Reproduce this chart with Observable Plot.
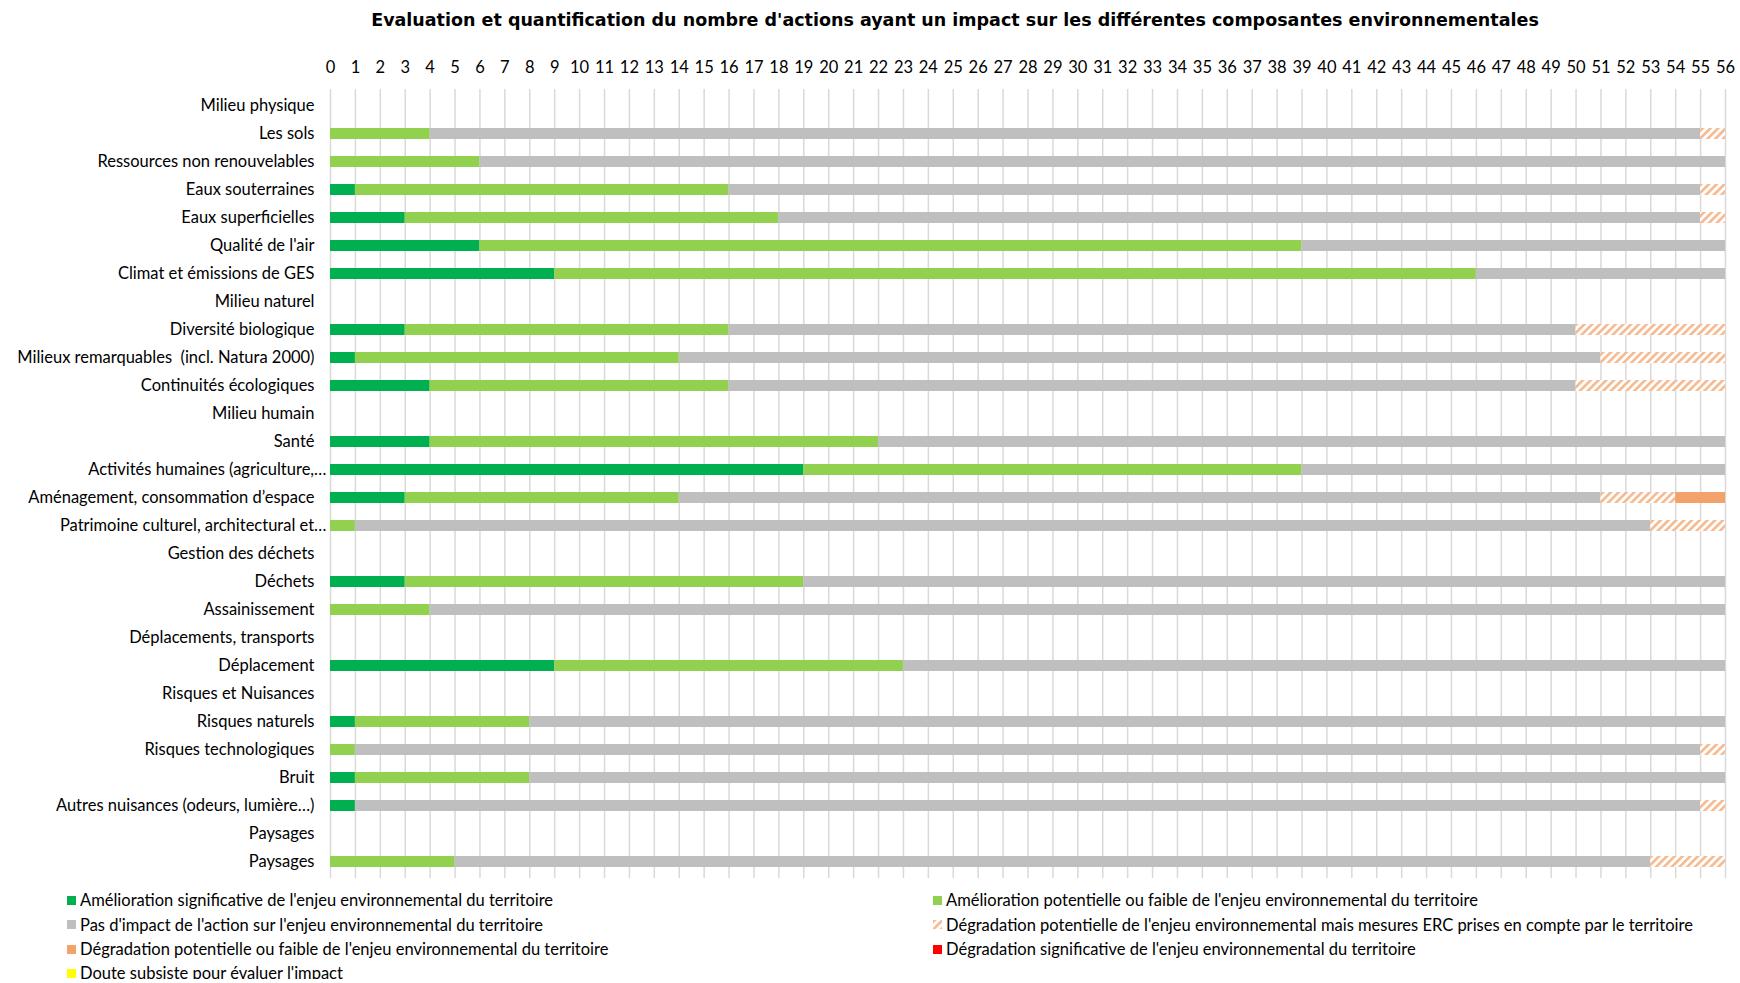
<!DOCTYPE html>
<html><head><meta charset="utf-8">
<script src="https://cdn.jsdelivr.net/npm/d3@7"></script>
<script src="https://cdn.jsdelivr.net/npm/@observablehq/plot@0.6"></script>
<style>
body{margin:0;background:#fff;font-family:Lato,sans-serif;}
#title{height:40px;line-height:40px;padding-left:170px;text-align:center;font-family:"DejaVu Sans";font-weight:bold;font-size:17.5px;color:#000;white-space:nowrap}
#chart svg{display:block}
#legend{position:relative;height:96px;font-size:16.5px;color:#000;font-family:Lato,sans-serif}
.item{position:absolute;display:flex;align-items:center;height:24px;white-space:nowrap}
.item svg{margin-right:4px;display:block}
</style></head><body>
<div id="title">Evaluation et quantification du nombre d'actions ayant un impact sur les différentes composantes environnementales</div>
<div id="chart"></div>
<div id="legend"></div>
<script>
const labels = [
  "Milieu physique","Les sols","Ressources non renouvelables","Eaux souterraines","Eaux superficielles",
  "Qualité de l'air","Climat et émissions de GES","Milieu naturel","Diversité biologique",
  "Milieux remarquables  (incl. Natura 2000)","Continuités écologiques","Milieu humain","Santé",
  "Activités humaines (agriculture,…","Aménagement, consommation d’espace","Patrimoine culturel, architectural et…",
  "Gestion des déchets","Déchets","Assainissement","Déplacements, transports","Déplacement",
  "Risques et Nuisances","Risques naturels","Risques technologiques","Bruit",
  "Autres nuisances (odeurs, lumière…)","Paysages","Paysages"
];
const truncated = [13, 15];
const xTicks = d3.range(0, 57);

const seriesNames = [
  "Amélioration significative de l'enjeu environnemental du territoire",
  "Amélioration potentielle ou faible de l'enjeu environnemental du territoire",
  "Pas d'impact de l'action sur l'enjeu environnemental du territoire",
  "Dégradation potentielle de l'enjeu environnemental mais mesures ERC prises en compte par le territoire",
  "Dégradation potentielle ou faible de l'enjeu environnemental du territoire",
  "Dégradation significative de l'enjeu environnemental du territoire",
  "Doute subsiste pour évaluer l'impact"
];
const seriesColors = ["#00B050","#92D050","#BFBFBF","url(#hatch)","#F4A26C","#FF0000","#FFFF00"];

const significant = [0,0,0,1,3,6,9, 0,3,1,4, 0,4,19,3,0, 0,3,0, 0,9, 0,1,0,1,1, 0,0];
const potential   = [0,4,6,15,15,33,37, 0,13,13,12, 0,18,20,11,1, 0,16,4, 0,14, 0,7,1,7,0, 0,5];
const noImpact    = [0,51,50,39,37,17,10, 0,34,37,34, 0,34,17,37,52, 0,37,52, 0,33, 0,48,54,48,54, 0,48];
const degradERC   = [0,1,0,1,1,0,0, 0,6,5,6, 0,0,0,3,3, 0,0,0, 0,0, 0,0,1,0,1, 0,3];
const degradLow   = [0,0,0,0,0,0,0, 0,0,0,0, 0,0,0,2,0, 0,0,0, 0,0, 0,0,0,0,0, 0,0];
const degradSig   = [0,0,0,0,0,0,0, 0,0,0,0, 0,0,0,0,0, 0,0,0, 0,0, 0,0,0,0,0, 0,0];
const doubt       = [0,0,0,0,0,0,0, 0,0,0,0, 0,0,0,0,0, 0,0,0, 0,0, 0,0,0,0,0, 0,0];
const seriesValues = [significant, potential, noImpact, degradERC, degradLow, degradSig, doubt];

const rows = labels.map((l, i) => String(i));
const data = [];
seriesNames.forEach((s, k) => {
  seriesValues[k].forEach((v, i) => { if (v > 0) data.push({row: String(i), series: s, value: v}); });
});
const normalRows = rows.filter((r, i) => !truncated.includes(i));
const truncRows = rows.filter((r, i) => truncated.includes(i));

const chart = Plot.plot({
  width: 1740, height: 843,
  marginTop: 49, marginBottom: 5, marginLeft: 330, marginRight: 15,
  style: {fontFamily: "Lato, sans-serif", fontSize: "16.5px", color: "#000", background: "#fff", overflow: "visible"},
  x: {domain: [0, 56], axis: null},
  y: {domain: rows, paddingInner: 0.595, paddingOuter: 0.2975, axis: null},
  color: {domain: seriesNames, range: seriesColors},
  marks: [
    Plot.gridX(xTicks, {stroke: "#D9D9D9", strokeOpacity: 1, strokeWidth: 1.5}),
    Plot.barX(data, Plot.stackX({x: "value", y: "row", fill: "series"})),
    Plot.axisX(xTicks, {anchor: "top", tickSize: 0, tickPadding: 17, tickFormat: d => String(d), fill: "#000", label: null}),
    Plot.axisY(normalRows, {tickSize: 0, tickPadding: 16, tickFormat: i => labels[+i], fill: "#000", label: null}),
    Plot.axisY(truncRows, {tickSize: 0, tickPadding: 4, tickFormat: i => labels[+i], fill: "#000", label: null})
  ]
});

const ns = "http://www.w3.org/2000/svg";
function addHatch(svg) {
  const defs = document.createElementNS(ns, "defs");
  defs.innerHTML = '<pattern id="hatch" patternUnits="userSpaceOnUse" width="5.5" height="5.5" patternTransform="rotate(45)">' +
    '<rect width="5.5" height="5.5" fill="#ffffff"/><rect width="2.6" height="5.5" fill="#F6B98E"/></pattern>';
  svg.insertBefore(defs, svg.firstChild);
}
addHatch(chart);
document.getElementById("chart").appendChild(chart);

// Legend
const legendPos = [
  [67, 5], [933, 5],
  [67, 29.5], [933, 29.5],
  [67, 54], [933, 54],
  [67, 78]
];
const legend = d3.select("#legend");
seriesNames.forEach((s, k) => {
  const item = legend.append("div").attr("class", "item")
    .style("left", legendPos[k][0] + "px").style("top", legendPos[k][1] + "px");
  const sw = item.append("svg").attr("width", 9).attr("height", 9);
  sw.append("rect").attr("width", 9).attr("height", 9).attr("fill", seriesColors[k]);
  item.append("span").text(s);
});
</script>
</body></html>
